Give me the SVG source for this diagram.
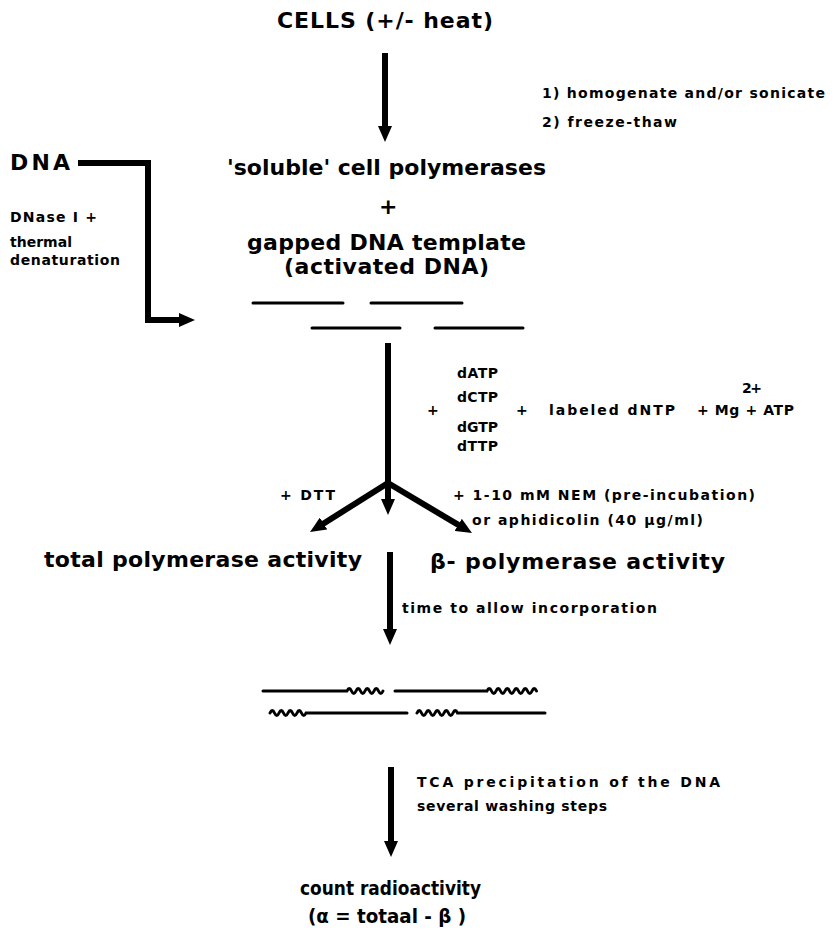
<svg xmlns="http://www.w3.org/2000/svg" width="836" height="939" viewBox="0 0 836 939">
<style>
  text { font-family: "DejaVu Sans", "Liberation Sans", Arial, sans-serif; font-weight: bold; fill: #000; }
  .big { font-size: 22px; }
  .mid { font-size: 19px; }
  .sm { font-size: 14px; }
  .arrow { stroke: #000; stroke-width: 6; fill: none; }
  .dna { stroke: #000; stroke-width: 3; fill: none; stroke-linecap: round; }
</style>
<defs>
  <marker id="ah" viewBox="0 0 16 14" refX="6" refY="7" markerWidth="16" markerHeight="14" markerUnits="userSpaceOnUse" orient="auto">
    <path d="M0,0 L16,7 L0,14 z" fill="#000"/>
  </marker>
</defs>
<rect width="836" height="939" fill="#fff"/>

<g id="cells"><text class="big" x="277" y="28" textLength="216" lengthAdjust="spacing">CELLS (+/- heat)</text></g>
<g id="lysis">
  <text class="sm" x="542" y="98" textLength="283" lengthAdjust="spacing">1) homogenate and/or sonicate</text>
  <text class="sm" x="542" y="127" textLength="135" lengthAdjust="spacing">2) freeze-thaw</text>
</g>
<g id="dna"><text class="big" x="10" y="170" textLength="60" lengthAdjust="spacing">DNA</text></g>
<g id="dnase">
  <text class="sm" x="10" y="222" textLength="87" lengthAdjust="spacing">DNase I +</text>
  <text class="sm" x="10" y="247" textLength="62" lengthAdjust="spacing">thermal</text>
  <text class="sm" x="10" y="265" textLength="110" lengthAdjust="spacing">denaturation</text>
</g>
<g id="mix">
  <text class="big" x="227" y="175" textLength="319" lengthAdjust="spacing">'soluble' cell polymerases</text>
  <text class="big" x="379" y="214">+</text>
  <text class="big" x="247" y="250" textLength="279" lengthAdjust="spacing">gapped DNA template</text>
  <text class="big" x="284" y="274" textLength="205" lengthAdjust="spacing">(activated DNA)</text>
</g>
<g id="template">
  <line class="dna" x1="253" y1="303" x2="343" y2="303"/>
  <line class="dna" x1="371" y1="303" x2="462" y2="303"/>
  <line class="dna" x1="312" y1="328" x2="400" y2="328"/>
  <line class="dna" x1="435" y1="328" x2="523" y2="328"/>
</g>
<g id="nucleotides">
  <text class="sm" x="457" y="378" textLength="41" lengthAdjust="spacing">dATP</text>
  <text class="sm" x="457" y="402" textLength="41" lengthAdjust="spacing">dCTP</text>
  <text class="sm" x="457" y="432" textLength="41" lengthAdjust="spacing">dGTP</text>
  <text class="sm" x="457" y="451" textLength="41" lengthAdjust="spacing">dTTP</text>
  <text class="sm" x="427" y="415">+</text>
  <text class="sm" x="516" y="415">+</text>
  <text class="sm" x="549" y="415" textLength="126" lengthAdjust="spacing">labeled dNTP</text>
  <text class="sm" x="697" y="415" textLength="97" lengthAdjust="spacing">+ Mg + ATP</text>
  <text class="sm" x="742" y="393" font-size="12" textLength="20" lengthAdjust="spacing">2+</text>
</g>
<g id="dtt"><text class="sm" x="280" y="500" textLength="55" lengthAdjust="spacing">+ DTT</text></g>
<g id="nem">
  <text class="sm" x="453" y="500" textLength="302" lengthAdjust="spacing">+ 1-10 mM NEM (pre-incubation)</text>
  <text class="sm" x="472" y="525" textLength="231" lengthAdjust="spacing">or aphidicolin (40 µg/ml)</text>
</g>
<g id="total"><text class="big" x="44" y="567" textLength="318" lengthAdjust="spacing">total polymerase activity</text></g>
<g id="beta"><text class="big" x="430" y="569" textLength="295" lengthAdjust="spacing">β- polymerase activity</text></g>
<g id="incubation"><text class="sm" x="402" y="613" textLength="255" lengthAdjust="spacing">time to allow incorporation</text></g>
<g id="labeled-dna">
  <path class="dna" d="M263,691 H347 q2.25,-5 4.5,0 t4.5,0 t4.5,0 t4.5,0 t4.5,0 t4.5,0 t4.5,0 t4.5,0"/>
  <path class="dna" d="M395,691 H487 q2.25,-5 4.5,0 t4.5,0 t4.5,0 t4.5,0 t4.5,0 t4.5,0 t4.5,0 t4.5,0 t4.5,0 t4.5,0 t4.5,0"/>
  <path class="dna" d="M270,713 q2.25,-5 4.5,0 t4.5,0 t4.5,0 t4.5,0 t4.5,0 t4.5,0 t4.5,0 t4.5,0 H407"/>
  <path class="dna" d="M417,713 q2.25,-5 4.5,0 t4.5,0 t4.5,0 t4.5,0 t4.5,0 t4.5,0 t4.5,0 t4.5,0 t4.5,0 H545"/>
</g>
<g id="tca">
  <text class="sm" x="417" y="787" textLength="303" lengthAdjust="spacing">TCA precipitation of the DNA</text>
  <text class="sm" x="417" y="811" textLength="190" lengthAdjust="spacing">several washing steps</text>
</g>
<g id="count">
  <text class="mid" x="300" y="895" textLength="181" lengthAdjust="spacingAndGlyphs">count radioactivity</text>
  <text class="mid" x="308" y="923" textLength="158" lengthAdjust="spacingAndGlyphs">(α =  totaal - β )</text>
</g>

<g id="connectors">
  <line class="arrow" x1="385" y1="53" x2="385" y2="132" marker-end="url(#ah)"/>
  <path class="arrow" stroke-width="5" d="M78,163 H148 V320 H185" marker-end="url(#ah)"/>
  <line class="arrow" x1="388" y1="343" x2="388" y2="484"/>
  <line class="arrow" x1="388" y1="483" x2="388" y2="505" marker-end="url(#ah)"/>
  <line class="arrow" x1="388" y1="483" x2="318.5" y2="526.7" marker-end="url(#ah)"/>
  <line class="arrow" x1="388" y1="483" x2="463.4" y2="527.9" marker-end="url(#ah)"/>
  <line class="arrow" x1="390" y1="552" x2="390" y2="635" marker-end="url(#ah)"/>
  <line class="arrow" x1="391" y1="767" x2="391" y2="847" marker-end="url(#ah)"/>
</g>
</svg>
